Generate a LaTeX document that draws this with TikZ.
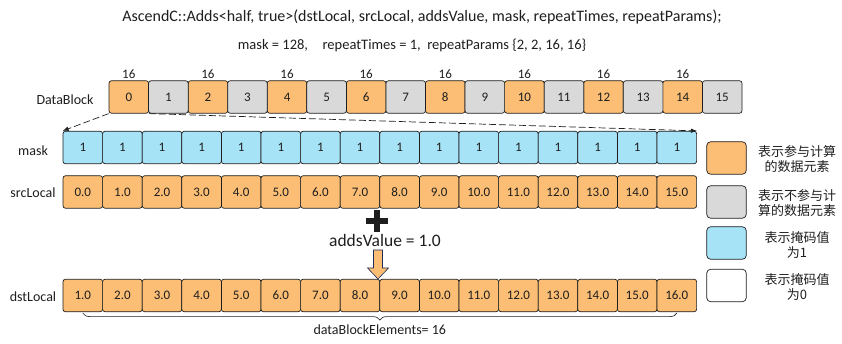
\documentclass[tikz,border=0pt]{standalone}
\usepackage{fontspec}
\setmainfont{Carlito}
\newfontfamily\cjk{Noto Sans CJK SC}
\usetikzlibrary{arrows.meta,positioning,calc,decorations.pathreplacing}
\definecolor{apricot}{RGB}{251,190,116}
\definecolor{silver}{RGB}{217,217,217}
\definecolor{sky}{RGB}{166,227,247}
\definecolor{ink}{RGB}{30,30,30}
\definecolor{navy}{RGB}{31,45,90}

\begin{document}
\begin{tikzpicture}[x=1pt,y=-1pt,
    cell/.style={draw=ink,rounded corners=2.5pt,minimum width=39.6pt,minimum height=32.5pt,
      inner sep=0pt,line width=0.7pt,text=ink,font=\fontsize{13}{15}\selectfont},
    rowlabel/.style={text=ink,font=\fontsize{14}{16}\selectfont}]
  \useasboundingbox (0,0) rectangle (842,344);
  \node[text=ink,font=\fontsize{16}{19}\selectfont] (title) at (422,17)
    {AscendC::Adds<half, true>(dstLocal, srcLocal, addsValue, mask, repeatTimes, repeatParams);};
  \node[text=ink,font=\fontsize{14.5}{17}\selectfont] (params) at (412,45)
    {mask = 128,\quad repeatTimes = 1,\ \ repeatParams \{2, 2, 16, 16\}};
  \node[rowlabel] (lbldb) at (65,100) {DataBlock};
  \node[rowlabel] (lblmask) at (33,151) {mask};
  \node[rowlabel] (lblsrc) at (33,193) {srcLocal};
  \node[rowlabel] (lbldst) at (33,297) {dstLocal};
  \foreach \i in {0,2,...,14}
    \node[cell,fill=apricot,label={[text=ink,font=\fontsize{13}{15}\selectfont,inner sep=0pt,label distance=2pt]above:16}]
      (db\i) at (128.8+39.56*\i,97) {\i};
  \foreach \i in {1,3,...,15}
    \node[cell,fill=silver] (db\i) at (128.8+39.56*\i,97) {\i};
  \foreach \i in {1,...,16} {
    \pgfmathtruncatemacro\v{\i-1}
    \node[cell,fill=sky] (m\i) at (43.2+39.6*\i,147.5) {1};
    \node[cell,fill=apricot] (s\i) at (43.2+39.6*\i,192) {\v.0};
    \node[cell,fill=apricot] (d\i) at (43.2+39.6*\i,295.5) {\i.0};
  }
  \draw[ink,line width=0.7pt,dash pattern=on 7pt off 3pt,-{Latex[length=6pt,width=4.5pt]}] (db0.south west) -- (m1.north west);
  \draw[ink,line width=0.7pt,dash pattern=on 7pt off 3pt,-{Latex[length=6pt,width=4.5pt]}] (db0.south east) -- (m16.north east);
  \fill[ink] (366,218) rectangle (388,224);
  \fill[ink] (374,210) rectangle (380,232);
  \node[text=ink,font=\fontsize{17.5}{20}\selectfont] (addval) at (385,240) {addsValue = 1.0};
  \filldraw[fill=apricot,draw=navy,line width=0.6pt] (373.5,250) -- (382.5,250) -- (382.5,268) -- (388.5,268)
    -- (378,279) -- (367.5,268) -- (373.5,268) -- cycle;
  \draw[ink,line width=0.6pt,decorate,decoration={brace,mirror,amplitude=7pt,raise=1pt}] (d1.south) -- (d16.south)
    node[midway,below=9pt,text=ink,font=\fontsize{14}{16}\selectfont] (dbe) {dataBlockElements= 16};
  \foreach \c/\t/\y [count=\i] in {apricot/{表示参与计算\\的数据元素}/158,
      silver/{表示不参与计\\算的数据元素}/202, sky/{表示掩码值\\为1}/243, white/{表示掩码值\\为0}/285.5} {
    \node[cell,fill=\c,rounded corners=4pt] (lg\i) at (726.5,\y) {};
    \node[align=center,text=ink,font=\cjk\fontsize{13}{15}\selectfont] (lt\i) at (797,\y+1.5) {\t};
  }
\end{tikzpicture}
\end{document}
